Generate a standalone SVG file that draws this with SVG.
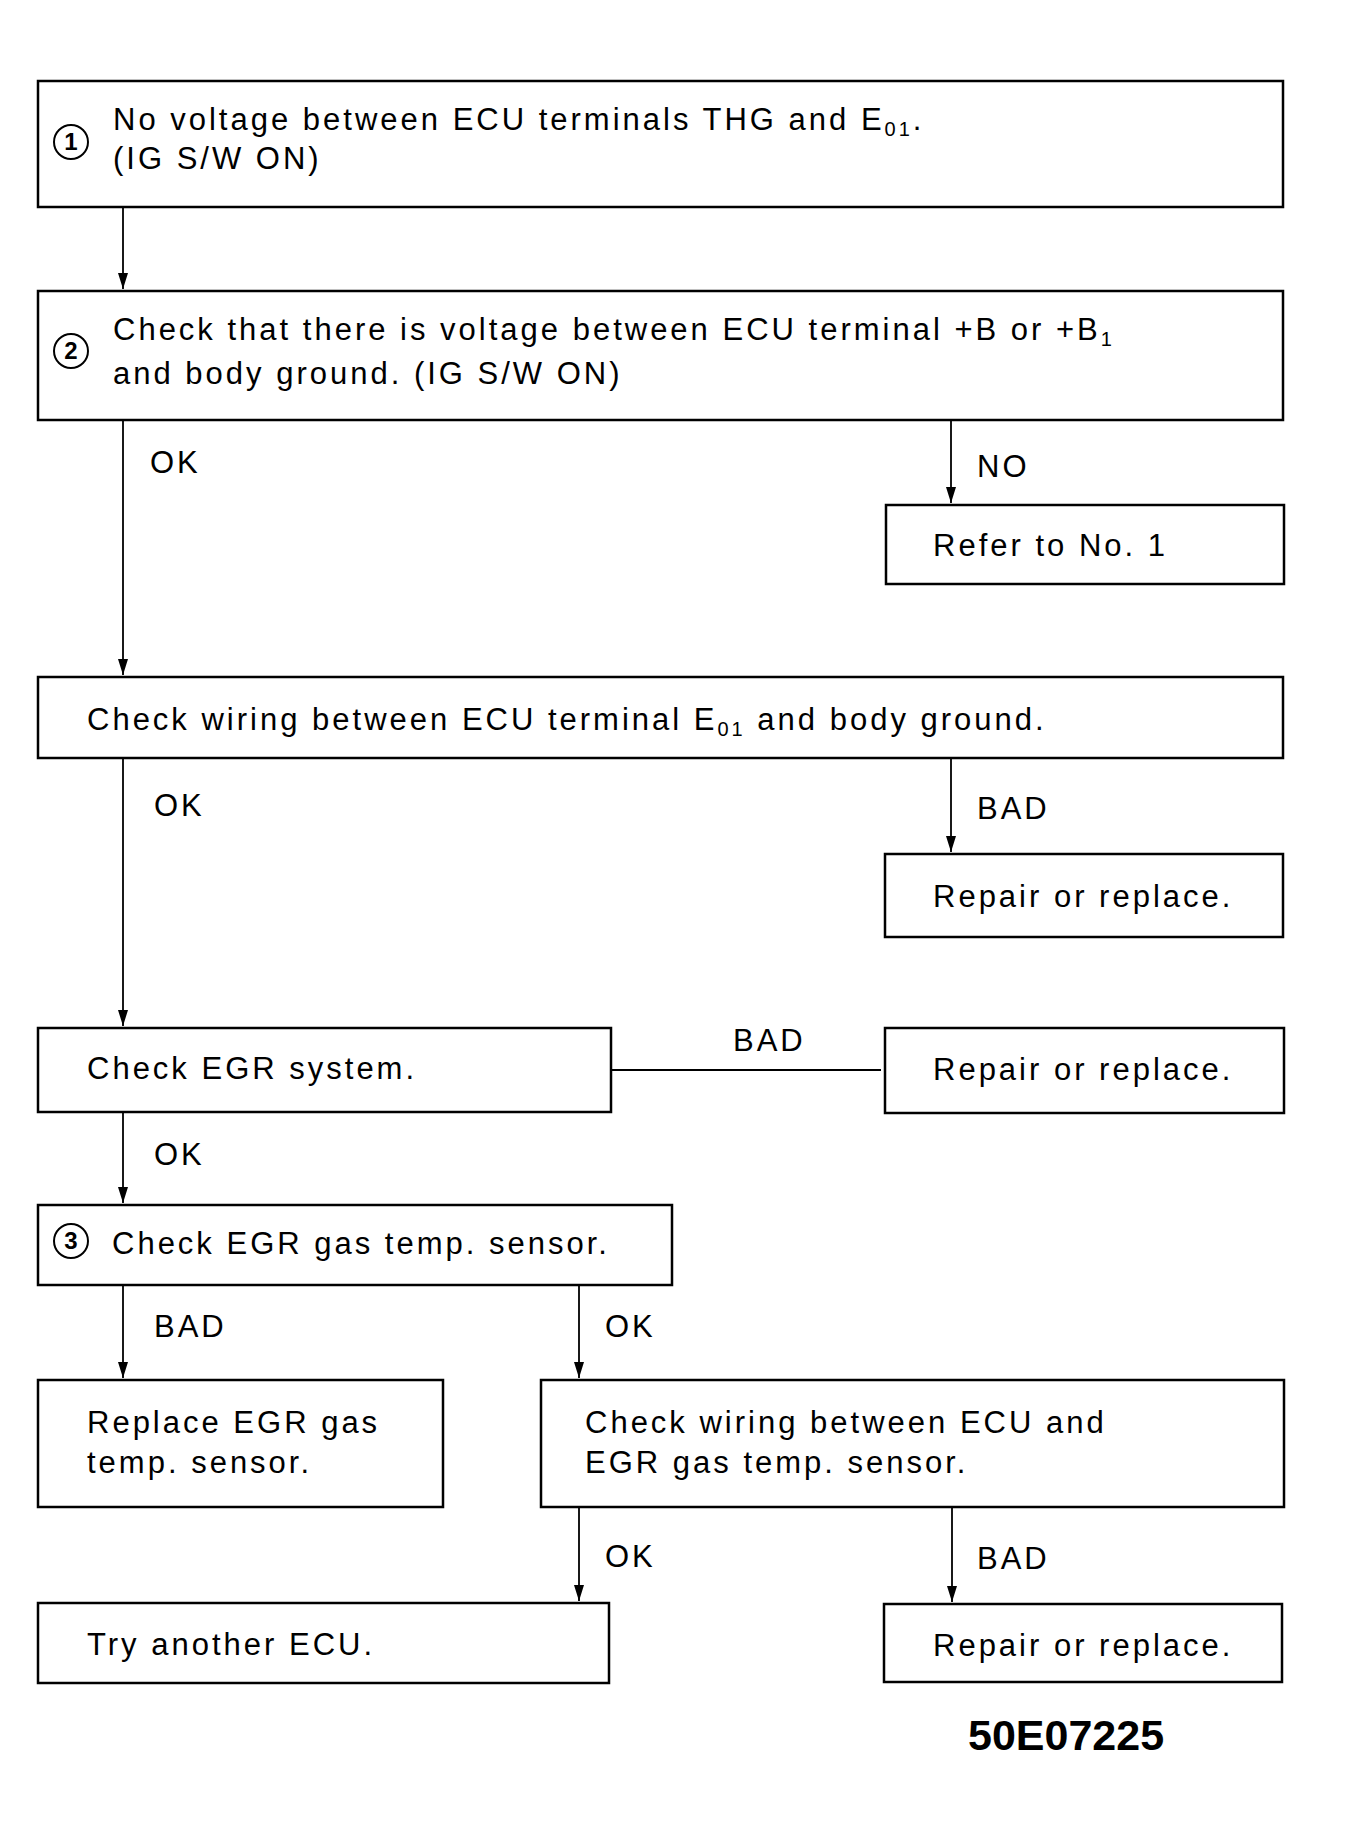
<svg xmlns="http://www.w3.org/2000/svg" width="1349" height="1837" viewBox="0 0 1349 1837">
<style>
.b{fill:none;stroke:#000;stroke-width:2.5}
.t{font-family:"Liberation Sans",Arial,sans-serif;font-size:31px;letter-spacing:3px;fill:#000}
.c{fill:none;stroke:#000;stroke-width:2}
.n{font-family:"Liberation Sans",Arial,sans-serif;font-size:24px;font-weight:bold;text-anchor:middle}
</style>
<defs><marker id="a" markerWidth="16" markerHeight="10" refX="16" refY="5" orient="auto" markerUnits="userSpaceOnUse" viewBox="0 0 16 10"><path d="M0,0 L16,5 L0,10 Z"/></marker></defs>
<rect width="1349" height="1837" fill="#fff"/>
<g id="connectors" stroke="#000" stroke-width="1.8" fill="none">
<line x1="123" y1="207" x2="123" y2="289" marker-end="url(#a)"/>
<line x1="123" y1="420" x2="123" y2="675" marker-end="url(#a)"/>
<line x1="951" y1="420" x2="951" y2="503" marker-end="url(#a)"/>
<line x1="123" y1="758" x2="123" y2="1026" marker-end="url(#a)"/>
<line x1="951" y1="758" x2="951" y2="852" marker-end="url(#a)"/>
<line x1="611" y1="1070" x2="881" y2="1070"/>
<line x1="123" y1="1112" x2="123" y2="1203" marker-end="url(#a)"/>
<line x1="123" y1="1285" x2="123" y2="1378" marker-end="url(#a)"/>
<line x1="579" y1="1285" x2="579" y2="1378" marker-end="url(#a)"/>
<line x1="579" y1="1507" x2="579" y2="1601" marker-end="url(#a)"/>
<line x1="952" y1="1507" x2="952" y2="1602" marker-end="url(#a)"/>
</g>
<g class="t">
<text x="150" y="473">OK</text>
<text x="977" y="477">NO</text>
<text x="154" y="816">OK</text>
<text x="977" y="819">BAD</text>
<text x="733" y="1051">BAD</text>
<text x="154" y="1165">OK</text>
<text x="154" y="1337">BAD</text>
<text x="605" y="1337">OK</text>
<text x="605" y="1567">OK</text>
<text x="977" y="1569">BAD</text>
</g>
<g id="n1"><rect class="b" x="38" y="81" width="1245" height="126"/><circle class="c" cx="71" cy="142" r="17"/><text class="n" x="71" y="150">1</text><text class="t" x="113" y="130">No voltage between ECU terminals THG and E<tspan font-size="20" dy="6">01</tspan><tspan dy="-6">.</tspan></text><text class="t" x="113" y="169">(IG S/W ON)</text></g>
<g id="n2"><rect class="b" x="38" y="291" width="1245" height="129"/><circle class="c" cx="71" cy="351" r="17"/><text class="n" x="71" y="359">2</text><text class="t" x="113" y="340">Check that there is voltage between ECU terminal +B or +B<tspan font-size="20" dy="6">1</tspan></text><text class="t" x="113" y="384">and body ground. (IG S/W ON)</text></g>
<g id="n3"><rect class="b" x="886" y="505" width="398" height="79"/><text class="t" x="933" y="556">Refer to No. 1</text></g>
<g id="n4"><rect class="b" x="38" y="677" width="1245" height="81"/><text class="t" x="87" y="730">Check wiring between ECU terminal E<tspan font-size="20" dy="6">01</tspan><tspan dy="-6"> and body ground.</tspan></text></g>
<g id="n5"><rect class="b" x="885" y="854" width="398" height="83"/><text class="t" x="933" y="907">Repair or replace.</text></g>
<g id="n6"><rect class="b" x="38" y="1028" width="573" height="84"/><text class="t" x="87" y="1079">Check EGR system.</text></g>
<g id="n7"><rect class="b" x="885" y="1028" width="399" height="85"/><text class="t" x="933" y="1080">Repair or replace.</text></g>
<g id="n8"><rect class="b" x="38" y="1205" width="634" height="80"/><circle class="c" cx="71" cy="1241" r="17"/><text class="n" x="71" y="1249">3</text><text class="t" x="112" y="1254">Check EGR gas temp. sensor.</text></g>
<g id="n9"><rect class="b" x="38" y="1380" width="405" height="127"/><text class="t" x="87" y="1433">Replace EGR gas</text><text class="t" x="87" y="1473">temp. sensor.</text></g>
<g id="n10"><rect class="b" x="541" y="1380" width="743" height="127"/><text class="t" x="585" y="1433">Check wiring between ECU and</text><text class="t" x="585" y="1473">EGR gas temp. sensor.</text></g>
<g id="n11"><rect class="b" x="38" y="1603" width="571" height="80"/><text class="t" x="87" y="1655">Try another ECU.</text></g>
<g id="n12"><rect class="b" x="884" y="1604" width="398" height="78"/><text class="t" x="933" y="1656">Repair or replace.</text></g>
<text x="968" y="1750" font-family="Liberation Sans,Arial,sans-serif" font-size="43" font-weight="bold">50E07225</text>
</svg>
